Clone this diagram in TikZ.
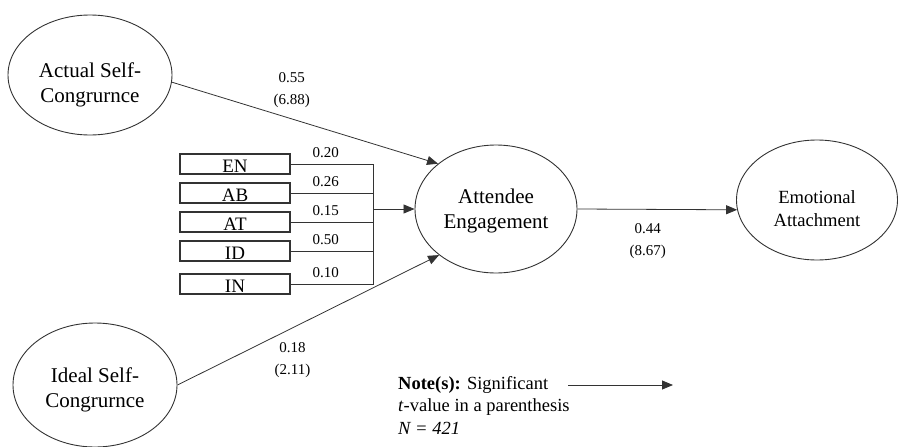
\documentclass[tikz,border=0pt]{standalone}
\usepackage{fontspec}
\setmainfont{Liberation Serif}
\usetikzlibrary{shapes.geometric,arrows.meta}

\begin{document}
\begin{tikzpicture}[x=1pt, y=-1pt, >={Triangle[length=11pt,width=9pt]},
    main node/.style={ellipse, draw=black!80, line width=0.9pt, inner sep=0pt, align=center, font=\fontsize{21}{25}\selectfont},
    item node/.style={rectangle, draw=black!80, line width=1.1pt, minimum width=110pt, text height=17pt, text depth=0pt, inner ysep=1.5pt, font=\fontsize{19}{21}\selectfont},
    coef/.style={font=\fontsize{15}{22}\selectfont, align=center},
    link/.style={draw=black!80, line width=0.8pt}]
        \tikzstyle{every node}=[text=black]
        \useasboundingbox (0,0) rectangle (900,447);

          \node[main node, minimum width=164pt, minimum height=120pt] (1) at (90,75) {\rule{0pt}{34pt}Actual Self-\\Congrurnce};
          \node[main node, minimum width=162pt, minimum height=128pt] (2) at (496,209) {\rule{0pt}{18pt}Attendee\\Engagement};
          \node[main node, minimum width=161pt, minimum height=120pt, font=\fontsize{18.6}{23}\selectfont] (3) at (817,200) {\rule{0pt}{30pt}Emotional\\Attachment};
          \node[main node, minimum width=164pt, minimum height=124pt] (4) at (95,385) {\rule{0pt}{25pt}Ideal Self-\\Congrurnce};

          \node[item node] (5) at (235,164) {EN};
          \node[item node] (6) at (235,193) {AB};
          \node[item node] (7) at (235,222) {AT};
          \node[item node] (8) at (235,251) {ID};
          \node[item node] (9) at (235,284) {IN};
          \coordinate (10) at (373,209);

          % indicators into the bar
          \draw[link] (5.east) -| node[coef, pos=.25, above=2.5pt, xshift=-6pt] {0.20} (10);
          \draw[link] (6.east) -| node[coef, pos=.25, above=2.5pt, xshift=-6pt] {0.26} (10);
          \draw[link] (7.east) -| node[coef, pos=.25, above=2.5pt, xshift=-6pt] {0.15} (10);
          \draw[link] (8.east) -| node[coef, pos=.25, above=2.5pt, xshift=-6pt] {0.50} (10);
          \draw[link] (9.east) -| node[coef, pos=.25, above=2.5pt, xshift=-6pt] {0.10} (10);

          \path[every edge/.append style={link, ->}, every node/.style={coef}]
            (1.355) edge node [pos=.45, above=7pt] {0.55\\(6.88)} (2.142)
            (4.east) edge node [pos=.44, below=11pt] {0.18\\(2.11)} (2.219)
            (2.east) edge node [pos=.44, below=10pt] {0.44\\(8.67)} (3.187)
            (10) edge (2.west);

          % legend
          \node[font=\fontsize{18.5}{22.5}\selectfont, align=left, anchor=north west, inner sep=0pt] (11) at (398,376) {\textbf{Note(s):} Significant\\\textit{t}-value in a parenthesis\\\textit{N = 421}};
          \coordinate (12) at (568,385);
          \coordinate (13) at (673,385);
          \draw[->, link] (12) -- (13);

        \end{tikzpicture}
\end{document}
